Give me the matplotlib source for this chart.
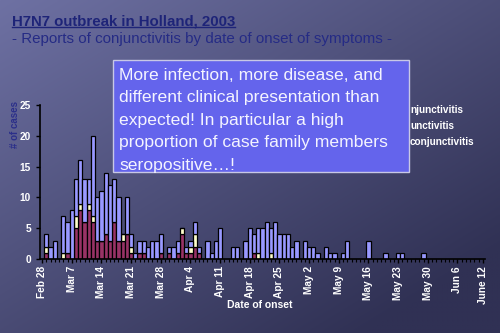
import numpy as np
import matplotlib.pyplot as plt
from matplotlib.patches import Rectangle
from matplotlib.lines import Line2D

plt.rcParams['font.family'] = ['Liberation Sans', 'DejaVu Sans']

# days after Feb 28 with at least one report
days = [1, 2, 3, 5, 6, 7, 8, 9, 10, 11, 12, 13, 14, 15, 16, 17, 18, 19, 20,
        21, 22, 23, 24, 25, 26, 27, 28, 30, 31, 32, 33, 34, 35, 36, 37, 39,
        40, 41, 42, 45, 46, 48, 49, 50, 51, 52, 53, 54, 55, 56, 57, 58, 59,
        60, 62, 63, 64, 65, 67, 68, 69, 71, 72, 77, 81, 84, 85, 90]
# bottom layer (dark red)
red = [1, 0, 0, 0, 1, 0, 5, 8, 6, 8, 6, 3, 3, 4, 3, 6, 3, 3, 4,
       1, 0, 1, 1, 0, 0, 0, 1, 1, 0, 1, 4, 1, 1, 2, 1, 0,
       0, 0, 0, 0, 0, 0, 0, 1, 0, 0, 0, 0, 0, 0, 0, 0, 0,
       0, 0, 0, 0, 0, 0, 0, 0, 0, 0, 0, 0, 0, 0, 0]
# middle layer (pale yellow)
yellow = [1, 0, 0, 1, 0, 0, 2, 1, 0, 1, 1, 0, 0, 0, 0, 0, 0, 1, 0,
          1, 0, 0, 0, 0, 0, 0, 0, 0, 0, 0, 1, 0, 1, 2, 0, 0,
          0, 0, 0, 0, 0, 0, 0, 0, 1, 0, 0, 1, 0, 0, 0, 0, 0,
          0, 0, 0, 0, 0, 0, 0, 0, 0, 0, 0, 0, 0, 0, 0]
# top layer (light blue)
blue = [2, 2, 3, 6, 5, 8, 6, 7, 7, 4, 13, 7, 8, 10, 9, 7, 7, 0, 6,
        2, 1, 2, 2, 2, 3, 3, 3, 1, 2, 2, 0, 1, 1, 2, 1, 3,
        1, 3, 5, 2, 2, 3, 5, 3, 4, 5, 6, 4, 6, 4, 4, 4, 2,
        3, 3, 2, 2, 1, 2, 1, 1, 1, 3, 3, 1, 1, 1, 1]

tick_days = [0, 7, 14, 21, 28, 35, 42, 49, 56, 63, 70, 77, 84, 91, 98, 104]
tick_labels = ['Feb 28', 'Mar 7', 'Mar 14', 'Mar 21', 'Mar 28', 'Apr 4',
               'Apr 11', 'Apr 18', 'Apr 25', 'May 2', 'May 9', 'May 16',
               'May 23', 'May 30', 'Jun 6', 'June 12']
# legend tails that stick out from under the note box
legend_tails = ['njunctivitis', 'unctivitis', 'conjunctivitis']
note_lines = ['More infection, more disease, and',
              'different clinical presentation than',
              'expected! In particular a high',
              'proportion of case family members',
              'seropositive\u2026!']

W, H = 500, 333
fig = plt.figure(figsize=(W / 100, H / 100), dpi=100)

# slide background gradient
bg = fig.add_axes([0, 0, 1, 1], zorder=-10)
yy, xx = np.mgrid[0:1:200j, 0:1:300j]
t = np.clip(0.55 * xx + 0.6 * yy, 0, 1)
c0 = np.array([110, 113, 163]) / 255
c1 = np.array([48, 49, 84]) / 255
img = c0[None, None, :] * (1 - t[..., None]) + c1[None, None, :] * t[..., None]
bg.imshow(img, aspect='auto', extent=[0, 1, 0, 1], origin='upper')
bg.axis('off')


def px(x, y):
    return x / W, 1 - y / H


ax = fig.add_axes([40 / W, 1 - 259 / H, 445 / W, 154 / H])
ax.patch.set_alpha(0)

days_a = np.array(days)
red_a = np.array(red)
yel_a = np.array(yellow)
blue_a = np.array(blue)

kw = dict(width=1.0, edgecolor='black', linewidth=0.9)
ax.bar(days_a, red_a, color='#993366', **kw)
ax.bar(days_a, yel_a, bottom=red_a, color='#FFFFCC', **kw)
ax.bar(days_a, blue_a, bottom=red_a + yel_a, color='#9999FF', **kw)

ax.set_xlim(-0.5, 104.5)
ax.set_ylim(0, 25)
ax.set_yticks([0, 5, 10, 15, 20, 25])
ax.set_xticks(tick_days)
ax.set_xticklabels(tick_labels, rotation=90)
ax.set_xticks(np.arange(0, 105), minor=True)
for sp in ['top', 'right']:
    ax.spines[sp].set_visible(False)
for sp in ['left', 'bottom']:
    ax.spines[sp].set_color('black')
    ax.spines[sp].set_linewidth(1.2)
ax.tick_params(axis='both', colors='black', labelcolor='white',
               labelsize=7.3, length=3, width=1)
ax.tick_params(axis='x', which='minor', length=2, width=0.8, color='black')
ax.tick_params(axis='x', pad=2)
for lab in ax.get_xticklabels() + ax.get_yticklabels():
    lab.set_fontweight('bold')

fig.text(*px(260, 305), 'Date of onset', color='white', fontsize=7.5,
         fontweight='bold', ha='center', va='center')
fig.text(*px(15, 124), '# of cases', color='#2B2F8A', fontsize=7,
         fontweight='bold', ha='center', va='center', rotation=90)

for lab, yc in zip(legend_tails, [110, 126, 142]):
    fig.text(*px(410, yc), lab, color='white', fontsize=7.2,
             fontweight='bold', ha='left', va='center')

# titles
title = fig.text(*px(12, 25), 'H7N7 outbreak in Holland, 2003', color='#1E2478',
                 fontsize=10.8, fontweight='bold', ha='left', va='baseline')
fig.text(*px(12, 43), '- Reports of conjunctivitis by date of onset of symptoms -',
         color='#252B85', fontsize=10.9, ha='left', va='baseline')
fig.canvas.draw()
bb = title.get_window_extent().transformed(fig.transFigure.inverted())
fig.add_artist(Line2D([bb.x0, bb.x1], [1 - 27 / H] * 2, color='#1E2478',
                      lw=1.0, transform=fig.transFigure))

# note box
x0, y0 = px(113, 172)
fig.add_artist(Rectangle((x0, y0), 296 / W, 112 / H, transform=fig.transFigure,
                         facecolor='#6464EC', edgecolor='#C8C8E6', lw=1.0,
                         zorder=5))
for i, line in enumerate(note_lines):
    fig.text(*px(119, 75 + 22.6 * i), line, color='#F4F4FF', fontsize=12.6,
             ha='left', va='center', zorder=6)

fig.savefig('out.png', dpi=100)
